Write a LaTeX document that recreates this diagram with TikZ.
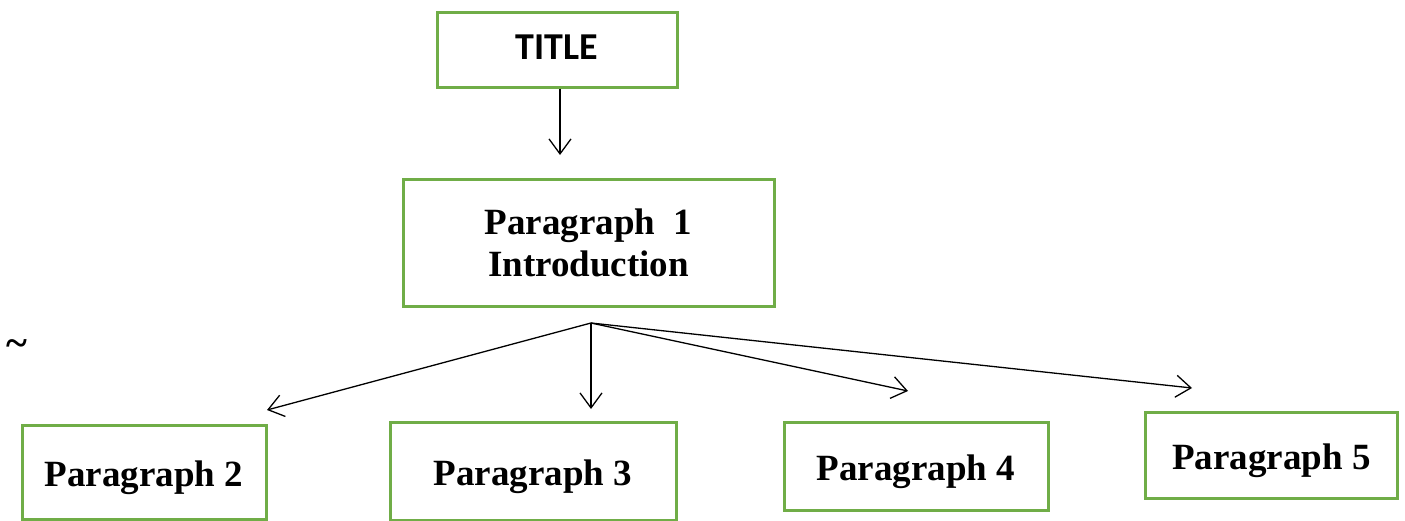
\documentclass[tikz,border=0pt]{standalone}
\usepackage{fontspec}
\setmainfont{Liberation Serif}
\newfontfamily\titlefont{Carlito}
\usetikzlibrary{arrows.meta}
\definecolor{boxgreen}{HTML}{70AD47}
\tikzset{
  gbox/.style={draw=boxgreen, line width=3pt, rectangle, inner sep=0pt, align=center,
    font=\fontsize{37}{42}\selectfont\bfseries},
  pbox/.style={gbox, text height=30pt, text depth=2pt},
  conn/.style={draw=black, line width=1.3pt, -{Straight Barb[length=15pt,width=22pt,line width=1.3pt]}}
}
\begin{document}
\begin{tikzpicture}[x=1pt,y=-1pt]
\useasboundingbox (0,0) rectangle (1405,520);
\node[gbox, minimum width=240pt, minimum height=75pt, text height=24.5pt, text depth=5.5pt, font=\titlefont\fontsize{38}{44}\selectfont\bfseries] (title) at (557,49.5) {TITLE};
\node[gbox, minimum width=371pt, minimum height=127pt] (p1) at (588.5,242.5) {Paragraph\ \ 1\\Introduction};
\node[pbox, minimum width=244pt, minimum height=94pt] (p2) at (144,472) {Paragraph 2};
\node[pbox, minimum width=286pt, minimum height=98pt] (p3) at (533,471) {Paragraph 3};
\node[pbox, minimum width=264pt, minimum height=88pt] (p4) at (916,466) {Paragraph 4};
\node[pbox, minimum width=252pt, minimum height=86pt] (p5) at (1271.5,455) {Paragraph 5};
\node[font=\fontsize{40}{44}\selectfont\bfseries, anchor=base, inner sep=0pt] (tilde) at (17,356) {\char`\~};
\coordinate (t1) at (560,155);
\coordinate (fan) at (591,323);
\coordinate (e2) at (267,410);
\coordinate (e3) at (591,409);
\coordinate (e4) at (908,391);
\coordinate (e5) at (1192,388);
\draw[conn] (title.south -| t1) -- (t1);
\draw[conn] (fan) -- (e2);
\draw[conn] (fan) -- (e3);
\draw[conn] (fan) -- (e4);
\draw[conn] (fan) -- (e5);
\end{tikzpicture}
\end{document}
